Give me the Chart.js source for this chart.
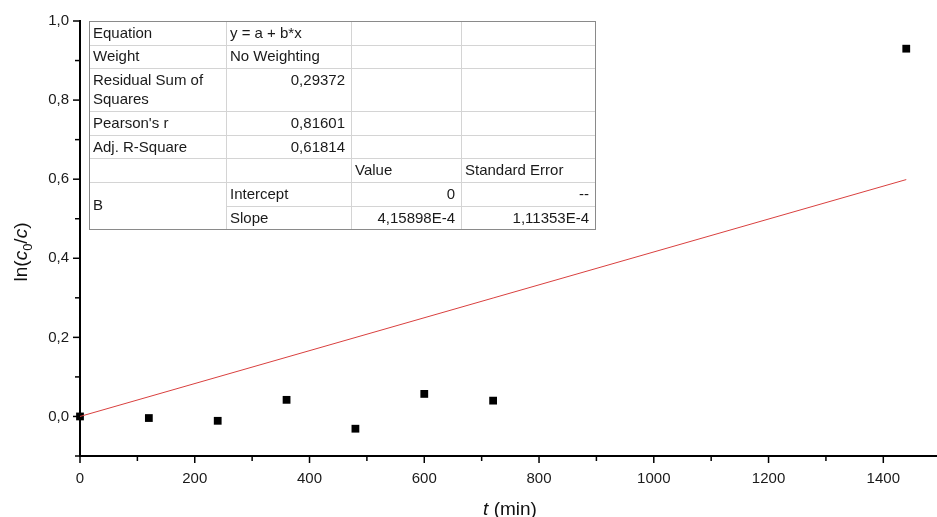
<!DOCTYPE html>
<html>
<head>
<meta charset="utf-8">
<script src="https://cdn.jsdelivr.net/npm/chart.js@4/dist/chart.umd.min.js"></script>
<style>
  html, body { margin: 0; padding: 0; background: #fff; }
  #wrap { width: 937px; height: 517px; position: relative; }
</style>
</head>
<body>
<div id="wrap"><canvas id="chart"></canvas></div>
<script>
// measured points
const timeMin = [0, 120, 240, 360, 480, 600, 720, 1440];
const lnRatio = [0, -0.004, -0.011, 0.042, -0.031, 0.057, 0.040, 0.930];

// fitted line (ends)
const fitX = [0, 1440];
const fitY = [0, 0.599];

const xTicks = [0, 100, 200, 300, 400, 500, 600, 700, 800, 900, 1000, 1100, 1200, 1300, 1400];
const yTicks = [-0.1, 0, 0.1, 0.2, 0.3, 0.4, 0.5, 0.6, 0.7, 0.8, 0.9, 1.0];

// fit result table
const tableRows = [
  ["Equation", "y = a + b*x", "", ""],
  ["Weight", "No Weighting", "", ""],
  ["Residual Sum of\nSquares", "0,29372", "", ""],
  ["Pearson's r", "0,81601", "", ""],
  ["Adj. R-Square", "0,61814", "", ""],
  ["", "", "Value", "Standard Error"],
  ["B", "Intercept", "0", "--"],
  ["", "Slope", "4,15898E-4", "1,11353E-4"]
];

const FONT = '"Liberation Sans", Arial, sans-serif';

const fitTable = {
  id: 'fitTable',
  afterDraw(chart) {
    const ctx = chart.ctx;
    const left = chart.chartArea.left + 9;
    const top = chart.chartArea.top;
    const cols = [0, 137, 262, 372, 506];
    const rows = [0, 23.5, 47, 90, 114, 137, 161, 185, 208];
    ctx.save();
    ctx.fillStyle = '#fff';
    ctx.fillRect(left, top, cols[4], rows[8]);
    ctx.strokeStyle = '#d4d4d4';
    ctx.lineWidth = 1;
    // horizontal lines
    for (let r = 1; r < rows.length - 1; r++) {
      const x0 = r === 7 ? left + cols[1] : left;
      ctx.beginPath();
      ctx.moveTo(x0, Math.round(top + rows[r]) + 0.5);
      ctx.lineTo(left + cols[4], Math.round(top + rows[r]) + 0.5);
      ctx.stroke();
    }
    for (let c = 1; c < cols.length - 1; c++) {
      ctx.beginPath();
      ctx.moveTo(Math.round(left + cols[c]) + 0.5, top);
      ctx.lineTo(Math.round(left + cols[c]) + 0.5, top + rows[8]);
      ctx.stroke();
    }
    ctx.strokeStyle = '#8a8a8a';
    ctx.strokeRect(Math.round(left) + 0.5, Math.round(top) + 0.5, cols[4], rows[8]);

    ctx.fillStyle = '#1a1a1a';
    ctx.font = '15px ' + FONT;
    ctx.textBaseline = 'middle';
    tableRows.forEach((row, r) => {
      row.forEach((txt, c) => {
        if (!txt) return;
        const lines = txt.split('\n');
        let y = top + rows[r] + 12.5;
        if (r === 6 && c === 0) y = top + (rows[6] + rows[8]) / 2;
        const numeric = /^[0-9\-]/.test(txt) && c > 0;
        ctx.textAlign = numeric ? 'right' : 'left';
        const x = numeric ? left + cols[c + 1] - 6 : left + cols[c] + 4;
        lines.forEach((ln, i) => ctx.fillText(ln, x, y + i * 19));
      });
    });
    ctx.restore();
  }
};

const axisTitles = {
  id: 'axisTitles',
  afterDraw(chart) {
    const ctx = chart.ctx;
    const area = chart.chartArea;
    ctx.save();
    ctx.fillStyle = '#111';
    ctx.textBaseline = 'alphabetic';
    // x title: t (min)
    const up = '19px ' + FONT, it = 'italic 19px ' + FONT;
    ctx.font = it; const wt = ctx.measureText('t').width;
    ctx.font = up; const wr = ctx.measureText(' (min)').width;
    let x = 510 - (wt + wr) / 2;
    const yb = 515;
    ctx.textAlign = 'left';
    ctx.font = it; ctx.fillText('t', x, yb);
    ctx.font = up; ctx.fillText(' (min)', x + wt, yb);

    // y title: ln(c0/c), rotated
    const parts = [
      { t: 'ln(', f: up, dy: 0 },
      { t: 'c', f: it, dy: 0 },
      { t: '0', f: '13px ' + FONT, dy: 5 },
      { t: '/', f: up, dy: 0 },
      { t: 'c', f: it, dy: 0 },
      { t: ')', f: up, dy: 0 }
    ];
    let total = 0;
    parts.forEach(p => { ctx.font = p.f; p.w = ctx.measureText(p.t).width; total += p.w; });
    ctx.translate(27, 252);
    ctx.rotate(-Math.PI / 2);
    let px = -total / 2;
    parts.forEach(p => { ctx.font = p.f; ctx.fillText(p.t, px, p.dy); px += p.w; });
    ctx.restore();
  }
};

const minorTicks = {
  id: 'minorTicks',
  afterDraw(chart) {
    const ctx = chart.ctx;
    const xs = chart.scales.x, ys = chart.scales.y;
    ctx.save();
    ctx.strokeStyle = '#000';
    ctx.lineWidth = 1.5;
    xTicks.forEach(v => {
      const px = xs.getPixelForValue(v);
      const len = v % 200 === 0 ? 7 : 5;
      ctx.beginPath();
      ctx.moveTo(px, ys.bottom);
      ctx.lineTo(px, ys.bottom + len);
      ctx.stroke();
    });
    yTicks.forEach(v => {
      const py = ys.getPixelForValue(v);
      const len = Math.round(v * 10) % 2 === 0 ? 7 : 5;
      ctx.beginPath();
      ctx.moveTo(xs.left, py);
      ctx.lineTo(xs.left - len, py);
      ctx.stroke();
    });
    // axis runs on to the right edge
    ctx.lineWidth = 2;
    ctx.beginPath();
    ctx.moveTo(xs.right, ys.bottom);
    ctx.lineTo(chart.width, ys.bottom);
    ctx.stroke();
    ctx.restore();
  }
};

new Chart(document.getElementById('chart'), {
  type: 'scatter',
  data: {
    datasets: [
      {
        label: 'fit',
        type: 'line',
        data: fitX.map((x, i) => ({ x: x, y: fitY[i] })),
        borderColor: '#d9403f',
        borderWidth: 1,
        pointRadius: 0,
        fill: false,
        tension: 0
      },
      {
        label: 'ln(c0/c)',
        data: timeMin.map((x, i) => ({ x: x, y: lnRatio[i] })),
        pointStyle: 'rect',
        pointRadius: 5.5,
        backgroundColor: '#000',
        borderColor: '#000',
        borderWidth: 0,
        clip: false
      }
    ]
  },
  options: {
    responsive: true,
    maintainAspectRatio: false,
    animation: false,
    layout: { padding: { top: 21, right: 1, left: 0, bottom: 0 } },
    plugins: {
      legend: { display: false },
      tooltip: { enabled: false }
    },
    scales: {
      x: {
        type: 'linear',
        min: 0,
        max: 1484,
        afterBuildTicks: axis => { axis.ticks = xTicks.map(v => ({ value: v })); },
        afterFit: axis => { axis.height = 61; },
        border: { color: '#000', width: 2 },
        grid: { drawOnChartArea: false, drawTicks: true, tickLength: 7, color: 'rgba(0,0,0,0)' },
        ticks: {
          color: '#1a1a1a',
          font: { family: FONT, size: 15 },
          padding: 7,
          maxRotation: 0,
          autoSkip: false,
          callback: v => (v % 200 === 0 ? String(v) : '')
        }
      },
      y: {
        type: 'linear',
        min: -0.1,
        max: 1.0,
        afterBuildTicks: axis => { axis.ticks = yTicks.map(v => ({ value: v })); },
        afterFit: axis => { axis.width = 80; },
        border: { color: '#000', width: 2 },
        grid: { drawOnChartArea: false, drawTicks: true, tickLength: 7, color: 'rgba(0,0,0,0)' },
        ticks: {
          color: '#1a1a1a',
          font: { family: FONT, size: 15 },
          padding: 4,
          autoSkip: false,
          callback: v => (Math.round(v * 10) % 2 === 0 ? v.toFixed(1).replace('.', ',').replace('-0,0', '0,0') : '')
        }
      }
    }
  },
  plugins: [minorTicks, fitTable, axisTitles]
});
</script>
</body>
</html>
